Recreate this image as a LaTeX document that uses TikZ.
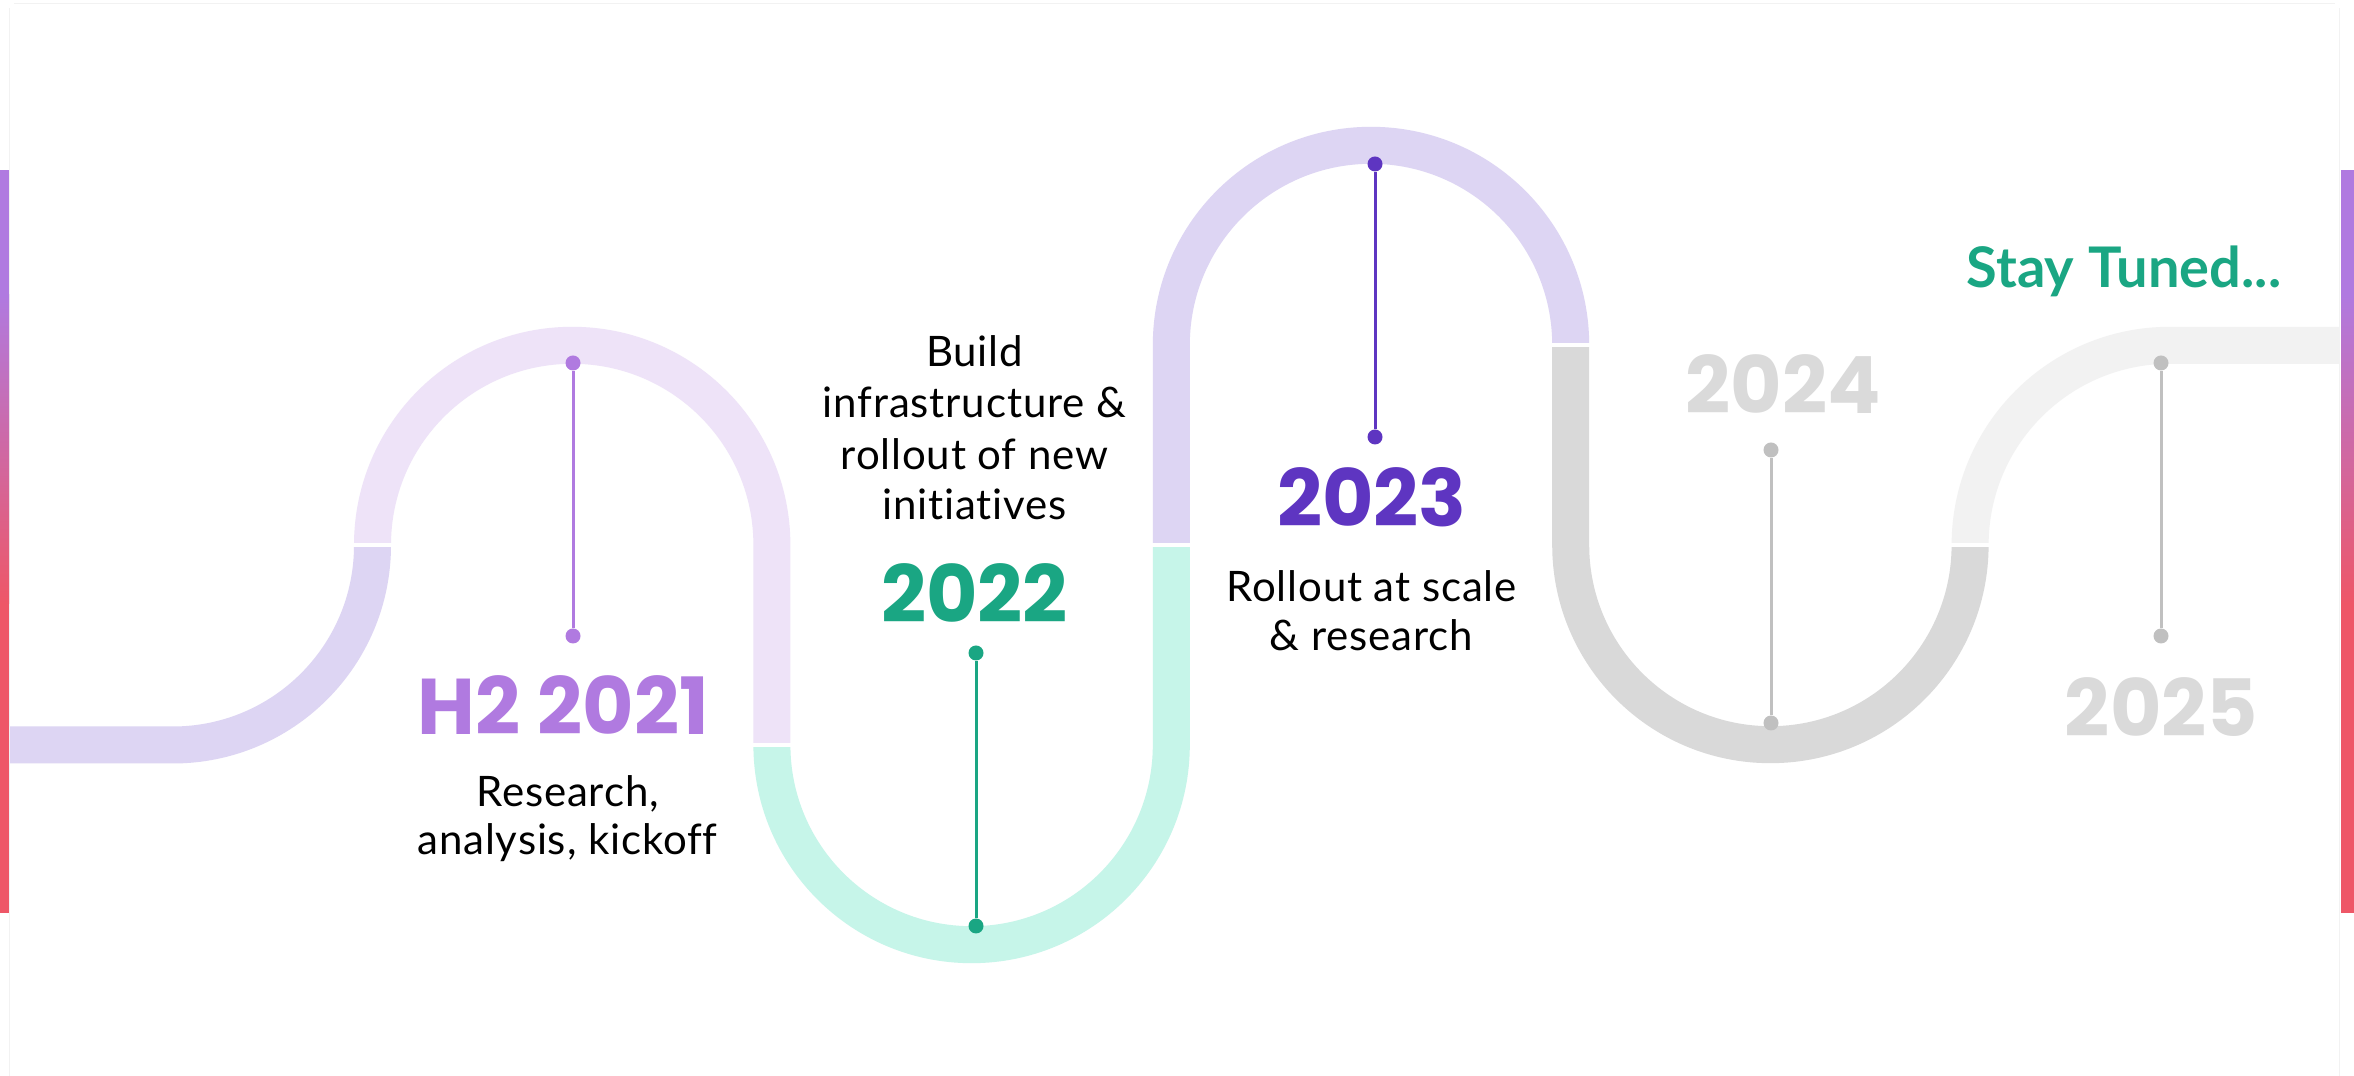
\documentclass[tikz,border=0pt]{standalone}
\usepackage{fontspec}
\setmainfont{Lato}
\newfontfamily\bodyfont[LetterSpace=2,Ligatures=NoCommon]{Lato}
\newfontfamily\yearfont{Poppins}
\newfontfamily\tunedfont[Ligatures=NoCommon]{Lato}
\definecolor{c21}{HTML}{B07AE0}
\definecolor{c22}{HTML}{1AA683}
\definecolor{c23}{HTML}{5E35C1}
\definecolor{cgr}{HTML}{C0C0C0}
\definecolor{cyr}{HTML}{DADADA}
\definecolor{rLav}{HTML}{DDD5F3}
\definecolor{rLavB}{HTML}{EEE3F8}
\definecolor{rTeal}{HTML}{C6F5E9}
\definecolor{rGray}{HTML}{D9D9D9}
\definecolor{rLight}{HTML}{F2F2F2}
\definecolor{barP}{HTML}{B07AE0}
\definecolor{barR}{HTML}{EE5767}
\definecolor{framecol}{HTML}{F2F2F2}
\begin{document}
\begin{tikzpicture}[x=1pt,y=1pt,
  road/.style={line width=37pt, line cap=butt},
  gapline/.style={draw=white, line width=3.5pt},
  tdot/.style={circle, fill=#1, draw=none, inner sep=0pt, minimum size=15pt},
  stemline/.style={draw=#1, line width=3pt},
  bodytext/.style={font=\bodyfont\fontsize{42}{50}\selectfont, text=black, inner sep=0pt, anchor=base},
  yeartext/.style={font=\yearfont\bfseries\fontsize{79}{90}\selectfont, text=#1, inner sep=0pt, anchor=base},
  framel/.style={draw=framecol, line width=1pt},
]
\useasboundingbox (0,0) rectangle (2354,1076);
\fill[white] (0,0) rectangle (2354,1076);
% faint frame
\draw[framel] (9.5,0) -- (9.5,1068);
\draw[framel] (14,1072) -- (2335,1072);
\draw[framel] (2339,0) -- (2339,1068);
% side bars
\fill[barP] (0,781) rectangle (9,906);
\shade[bottom color=barR, top color=barP] (0,472) rectangle (9,781);
\fill[barR] (0,163) rectangle (9,472);
\fill[barP] (2341,781) rectangle (2354,906);
\shade[bottom color=barR, top color=barP] (2341,472) rectangle (2354,781);
\fill[barR] (2341,163) rectangle (2354,472);
% road
\draw[road, rLav] (10,331) -- (172.8,331) arc[start angle=-90, end angle=0, radius=199.7];
\draw[road, rLavB] (372.5,531) arc[start angle=180, end angle=0, radius=199.7] -- (771.9,331);
\draw[road, rTeal] (771.9,331) arc[start angle=180, end angle=360, radius=199.7] -- (1171.3,531);
\draw[road, rLav] (1171.3,531) -- (1171.3,731) arc[start angle=180, end angle=0, radius=199.7];
\draw[road, rGray] (1570.7,731) -- (1570.7,531) arc[start angle=180, end angle=360, radius=199.7];
\draw[road, rLight] (1970.1,531) arc[start angle=180, end angle=90, radius=199.7] -- (2339,730.7);
% gaps between segments
\draw[gapline] (350,531) -- (395,531);
\draw[gapline] (749,331) -- (795,331);
\draw[gapline] (1148,531) -- (1194,531);
\draw[gapline] (1548,731) -- (1594,731);
\draw[gapline] (1947,531) -- (1993,531);
% stems
\node[tdot=c21] (s21a) at (573,713) {};
\node[tdot=c21] (s21b) at (573,440) {};
\draw[stemline=c21] (s21a) -- (s21b);
\node[tdot=c22] (s22a) at (976,423) {};
\node[tdot=c22] (s22b) at (976,150) {};
\draw[stemline=c22] (s22a) -- (s22b);
\node[tdot=c23] (s23a) at (1375,912) {};
\node[tdot=c23] (s23b) at (1375,639) {};
\draw[stemline=c23] (s23a) -- (s23b);
\node[tdot=cgr] (s24a) at (1771,626) {};
\node[tdot=cgr] (s24b) at (1771,353) {};
\draw[stemline=cgr] (s24a) -- (s24b);
\node[tdot=cgr] (s25a) at (2161,713) {};
\node[tdot=cgr] (s25b) at (2161,440) {};
\draw[stemline=cgr] (s25a) -- (s25b);
% years
\node[yeartext=c21] (y21) at (563.5,341) {H2 2021};
\node[yeartext=c22] (y22) at (974.5,453) {2022};
\node[yeartext=c23] (y23) at (1372,549) {2023};
\node[yeartext=cyr] (y24) at (1783,662) {2024};
\node[yeartext=cyr] (y25) at (2161.5,339) {2025};
% descriptions
\node[bodytext] (t1a) at (567.5,269) {Research,};
\node[bodytext] (t1b) at (567.5,221) {analysis, kickoff};
\node[bodytext] (t2a) at (974.5,709) {Build};
\node[bodytext] (t2b) at (974.5,658) {infrastructure \&};
\node[bodytext] (t2c) at (974.5,606) {rollout of new};
\node[bodytext] (t2d) at (974.5,556) {initiatives};
\node[bodytext] (t3a) at (1371.5,474) {Rollout at scale};
\node[bodytext] (t3b) at (1371.5,425) {\& research};
\node[font=\tunedfont\bfseries\fontsize{56}{60}\selectfont, text=c22, inner sep=0pt, anchor=base] (tuned) at (2124,788) {Stay Tuned...};
\end{tikzpicture}
\end{document}
